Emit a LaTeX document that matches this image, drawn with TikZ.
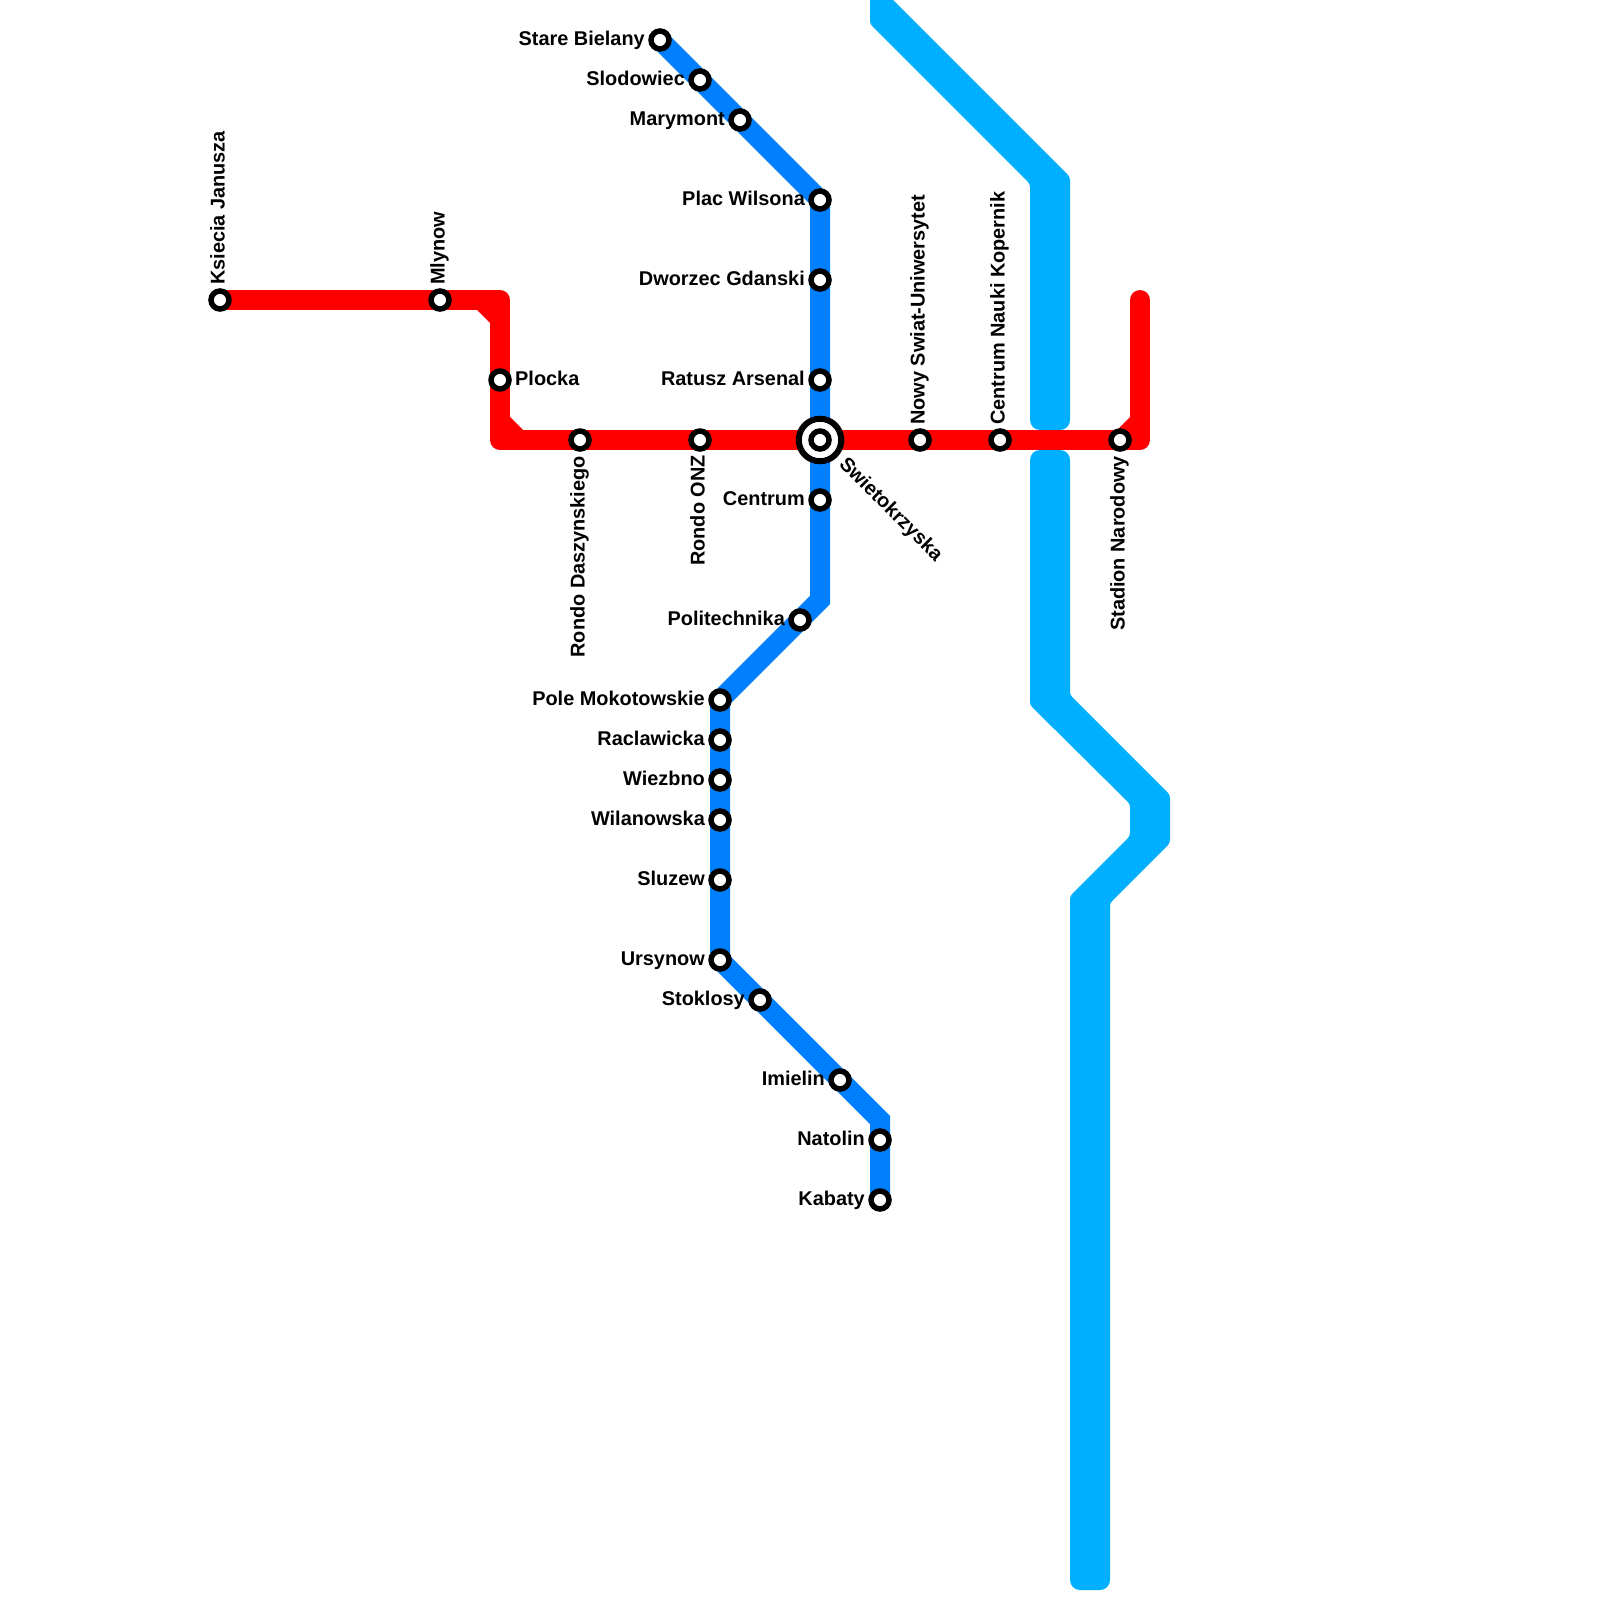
\documentclass[tikz,border=0pt]{standalone}
\usepackage{fontspec}
\setmainfont{Liberation Sans}
\usetikzlibrary{backgrounds}
\definecolor{redline}{HTML}{FF0000}
\definecolor{blueline}{HTML}{007FFF}
\definecolor{skyline}{HTML}{00B0FF}
\tikzset{
  stn/.style={circle,draw=black,fill=white,line width=5.5pt,minimum size=18pt,inner sep=0pt,outer sep=0pt},
  hub/.style={circle,draw=black,fill=white,line width=6pt,minimum size=42.5pt,inner sep=0pt,outer sep=0pt},
  lbl/.style={font=\fontsize{19.9}{20}\selectfont\bfseries,text=black,inner sep=0pt,text height=14.5pt,text depth=3.5pt},
  lw/.style={lbl,anchor=east},
  le/.style={lbl,anchor=west},
  lu/.style={lbl,anchor=west,rotate=90},
  ld/.style={lbl,anchor=east,rotate=90},
  ldiag/.style={lbl,anchor=west,rotate=-45},
  redroute/.style={draw=redline,line width=20pt,line join=round,line cap=round},
  blueroute/.style={draw=blueline,line width=20pt,line join=miter,line cap=butt},
  chamfer/.style={fill=redline},
  skyroute/.style={fill=skyline,draw=none,rounded corners=3pt},
}
\begin{document}
\begin{tikzpicture}[x=1pt,y=-1pt]
\useasboundingbox (0,0) rectangle (1600,1600);
% red stations
\node[stn] (kj) at (220,300) {};
\node[stn] (ml) at (440,300) {};
\node[stn] (pl) at (500,380) {};
\node[stn] (rd) at (580,440) {};
\node[stn] (ro) at (700,440) {};
\node[hub] (shub) at (820,440) {};
\node[stn] (sw) at (820,440) {};
\node[stn] (ns) at (920,440) {};
\node[stn] (ck) at (1000,440) {};
\node[stn] (sn) at (1120,440) {};
% blue stations
\node[stn] (sb) at (660,40) {};
\node[stn] (sl) at (700,80) {};
\node[stn] (ma) at (740,120) {};
\node[stn] (pw) at (820,200) {};
\node[stn] (dg) at (820,280) {};
\node[stn] (ra) at (820,380) {};
\node[stn] (ce) at (820,500) {};
\node[stn] (po) at (800,620) {};
\node[stn] (pm) at (720,700) {};
\node[stn] (rc) at (720,740) {};
\node[stn] (wi) at (720,780) {};
\node[stn] (wl) at (720,820) {};
\node[stn] (sz) at (720,880) {};
\node[stn] (ur) at (720,960) {};
\node[stn] (st) at (760,1000) {};
\node[stn] (im) at (840,1080) {};
\node[stn] (na) at (880,1140) {};
\node[stn] (ka) at (880,1200) {};
% route bends
\coordinate (r1) at (500,300);
\coordinate (r2) at (500,440);
\coordinate (r3) at (1140,440);
\coordinate (r4) at (1140,300);
\coordinate (b1) at (820,600);
\coordinate (b2) at (880,1120);
\begin{scope}[on background layer]
  \fill[skyroute] (870,-20) -- (870,24) -- (1030,184) [rounded corners=10pt] -- (1030,430) -- (1070,430) [rounded corners=3pt] -- (1070,177) -- (869,-24) -- cycle;
  \fill[skyroute,rounded corners=10pt] (1050,450) -- (1030,450) [rounded corners=3pt] -- (1030,705) -- (1130,804) -- (1130,836) -- (1070,896) [rounded corners=10pt] -- (1070,1590) -- (1110,1590) [rounded corners=3pt] -- (1110,903) -- (1170,843) -- (1170,795) -- (1070,695) [rounded corners=10pt] -- (1070,450) -- cycle;
  \draw[redroute] (kj.center) -- (r1) -- (r2) -- (r3) -- (r4);
  \fill[chamfer] (476,309) -- (491,309) -- (491,324) -- cycle;
  \fill[chamfer] (509,416) -- (509,431) -- (524,431) -- cycle;
  \fill[chamfer] (1116,431) -- (1131,431) -- (1131,416) -- cycle;
  \draw[blueroute] (sb.center) -- (pw.center) -- (b1) -- (pm.center) -- (ur.center) -- (b2) -- (ka.center);
\end{scope}
% labels
\node[lu] (tkj) at ([xshift=-1pt,yshift=15pt]kj.center) {Ksiecia Janusza};
\node[lu] (tml) at ([xshift=-1pt,yshift=15pt]ml.center) {Mlynow};
\node[le] (tpl) at ([xshift=15pt,yshift=0pt]pl.center) {Plocka};
\node[ld] (trd) at ([xshift=-1pt,yshift=-16pt]rd.center) {Rondo Daszynskiego};
\node[ld] (tro) at ([xshift=-1pt,yshift=-15pt]ro.center) {Rondo ONZ};
\node[ldiag] (tsw) at ([xshift=22pt,yshift=-21pt]sw.center) {Swietokrzyska};
\node[lu] (tns) at ([xshift=-1pt,yshift=15pt]ns.center) {Nowy Swiat-Uniwersytet};
\node[lu] (tck) at ([xshift=-1pt,yshift=15pt]ck.center) {Centrum Nauki Kopernik};
\node[ld] (tsn) at ([xshift=-1pt,yshift=-16pt]sn.center) {Stadion Narodowy};
\node[lw] (tsb) at ([xshift=-15pt]sb.center) {Stare Bielany};
\node[lw] (tsl) at ([xshift=-15pt]sl.center) {Slodowiec};
\node[lw] (tma) at ([xshift=-15pt]ma.center) {Marymont};
\node[lw] (tpw) at ([xshift=-15pt]pw.center) {Plac Wilsona};
\node[lw] (tdg) at ([xshift=-15pt]dg.center) {Dworzec Gdanski};
\node[lw] (tra) at ([xshift=-15pt]ra.center) {Ratusz Arsenal};
\node[lw] (tce) at ([xshift=-15pt]ce.center) {Centrum};
\node[lw] (tpo) at ([xshift=-15pt]po.center) {Politechnika};
\node[lw] (tpm) at ([xshift=-15pt]pm.center) {Pole Mokotowskie};
\node[lw] (trc) at ([xshift=-15pt]rc.center) {Raclawicka};
\node[lw] (twi) at ([xshift=-15pt]wi.center) {Wiezbno};
\node[lw] (twl) at ([xshift=-15pt]wl.center) {Wilanowska};
\node[lw] (tsz) at ([xshift=-15pt]sz.center) {Sluzew};
\node[lw] (tur) at ([xshift=-15pt]ur.center) {Ursynow};
\node[lw] (tst) at ([xshift=-15pt]st.center) {Stoklosy};
\node[lw] (tim) at ([xshift=-15pt]im.center) {Imielin};
\node[lw] (tna) at ([xshift=-15pt]na.center) {Natolin};
\node[lw] (tka) at ([xshift=-15pt]ka.center) {Kabaty};
\end{tikzpicture}
\end{document}
